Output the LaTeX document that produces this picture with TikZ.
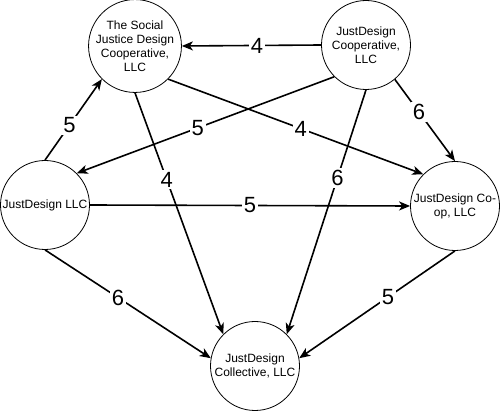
\documentclass[tikz,border=0pt]{standalone}
\usepackage{fontspec}
\setmainfont{Liberation Sans}
\usetikzlibrary{arrows.meta}
\begin{document}
\begin{tikzpicture}[x=1pt,y=-1pt,
  circ/.style={circle, draw, line width=0.8pt, minimum size=89pt, inner sep=0pt, align=center, font=\fontsize{12}{14}\selectfont},
  edge/.style={line width=1.6pt, -{Stealth[length=11pt,width=9pt,inset=3pt]}},
  lbl/.style={fill=white, inner sep=2pt, font=\fontsize{22}{22}\selectfont}]
\useasboundingbox (0,0) rectangle (501,411);
\node[circ] (sj) at (135,46) {The Social\\Justice Design\\Cooperative,\\LLC};
\node[circ] (coop) at (366,45) {JustDesign\\Cooperative,\\LLC};
\node[circ] (llc) at (45,205) {JustDesign LLC};
\node[circ] (coopllc) at (455,206) {JustDesign Co-\\op, LLC};
\node[circ] (col) at (255,366) {JustDesign\\Collective, LLC};

\draw[edge] (coop.west) -- node[lbl, pos=0.46] (l1) {4} (sj.east);
\draw[edge] (llc.north) -- node[lbl, pos=0.43] (l2) {5} (sj.-135);
\draw[edge] (coop.-135) -- node[lbl, pos=0.53] (l3) {5} (llc.45);
\draw[edge] (sj.-45) -- node[lbl, pos=0.52] (l4) {4} (coopllc.135);
\draw[edge] (coop.-50) -- node[lbl, pos=0.4] (l5) {6} (coopllc.north);
\draw[edge] (sj.south) -- node[lbl, pos=0.36] (l6) {4} (col.135);
\draw[edge] (coop.south) -- node[lbl, pos=0.36] (l7) {6} (col.45);
\draw[edge] (llc.east) -- node[lbl, pos=0.5] (l8) {5} (coopllc.west);
\draw[edge] (llc.south) -- node[lbl, pos=0.44] (l9) {6} (col.170);
\draw[edge] (coopllc.south) -- node[lbl, pos=0.43] (l10) {5} (col.10);
\end{tikzpicture}
\end{document}
